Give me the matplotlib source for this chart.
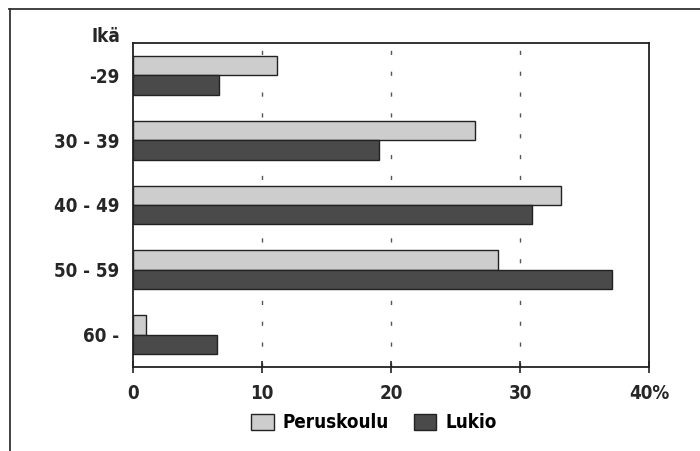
import matplotlib.pyplot as plt
import numpy as np
from matplotlib.lines import Line2D
from matplotlib.patches import Patch

plt.rcParams['font.family'] = ['DejaVu Sans']
plt.rcParams['font.stretch'] = 'condensed'
plt.rcParams['font.weight'] = 'bold'

# Data
ages = ['-29', '30 - 39', '40 - 49', '50 - 59', '60 -']
peruskoulu = [11.2, 26.5, 33.2, 28.3, 1.0]
lukio = [6.7, 19.1, 30.9, 37.1, 6.5]
xticks = [0, 10, 20, 30, 40]
xlabels = ['0', '10', '20', '30', '40%']

fig = plt.figure(figsize=(7, 4.51), dpi=100)
ax = fig.add_axes([133/700, 1-367/451, (649-133)/700, (367-43)/451])

y = np.arange(len(ages))
h = 0.3
ax.barh(y - h/2, peruskoulu, height=h, color='#cdcdcd', edgecolor='#222222', linewidth=1.0, zorder=3)
ax.barh(y + h/2, lukio, height=h, color='#4a4a4a', edgecolor='#222222', linewidth=1.0, zorder=3)

ax.set_xlim(0, 40)
ax.set_ylim(4.5, -0.5)
ax.set_yticks(y)
ax.set_yticklabels(ages, fontsize=13.5, color='#262626')
ax.tick_params(axis='y', length=0, pad=10)
ax.set_xticks(xticks)
ax.set_xticklabels(xlabels, fontsize=13.5, color='#262626')
ax.tick_params(axis='x', direction='inout', length=8, width=1.2, pad=8, color='#222222')

# dashed vertical guides
for g in [10, 20, 30]:
    ax.axvline(g, color='#555555', linestyle=(0, (3, 12)), linewidth=1.0, zorder=1)

for s in ax.spines.values():
    s.set_linewidth(1.3)
    s.set_color('#222222')

fig.text(106/700, 1-37/451, 'Ikä', fontsize=13.5, color='#262626', ha='center', va='center')

handles = [Patch(facecolor='#cdcdcd', edgecolor='#222222', label='Peruskoulu'),
           Patch(facecolor='#4a4a4a', edgecolor='#222222', label='Lukio')]
fig.legend(handles=handles, loc='center', bbox_to_anchor=(374/700, 1-423/451), ncol=2,
           frameon=False, prop={'size': 13.5, 'stretch': 'condensed', 'weight': 'bold'},
           handlelength=1.2, handleheight=0.9, columnspacing=1.3, handletextpad=0.5,
           borderpad=0.1)

# Outer frame (top and left edges visible)
fig.add_artist(Line2D([9/700, 1], [1-9/451, 1-9/451], color='#333333', linewidth=1.3))
fig.add_artist(Line2D([10/700, 10/700], [0, 1-9/451], color='#333333', linewidth=1.3))

fig.savefig('out.png', dpi=100)
